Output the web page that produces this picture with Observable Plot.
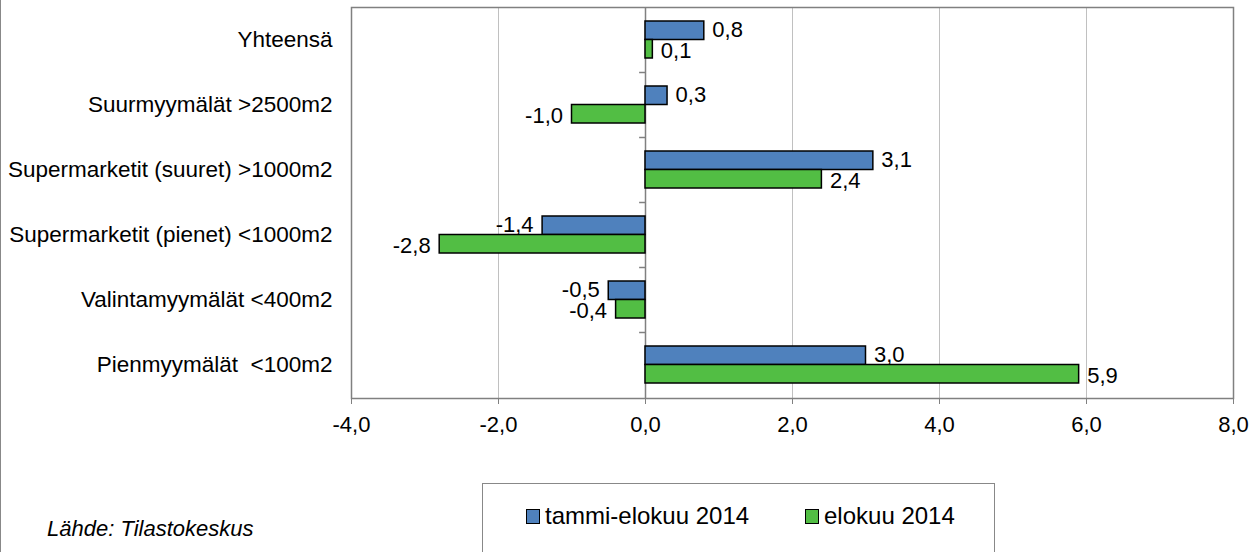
<!DOCTYPE html>
<html>
<head>
<meta charset="utf-8">
<script src="https://cdn.jsdelivr.net/npm/d3@7"></script>
<script src="https://cdn.jsdelivr.net/npm/@observablehq/plot@0.6"></script>
<style>
  html, body { margin: 0; padding: 0; background: #fff; }
  body { width: 1257px; height: 552px; position: relative; overflow: hidden; font-family: "Liberation Sans", Arial, sans-serif; }
  #outer { position: absolute; left: 0; top: 0; width: 1257px; height: 552px; border-left: 1px solid #888; box-sizing: border-box; }
  #chart { position: absolute; left: 0; top: 0; }
  #chart svg text { white-space: pre; }
  #legend { position: absolute; left: 482px; top: 483px; width: 513px; height: 80px; border: 1px solid #888; box-sizing: border-box; font-size: 24px; line-height: 24px; color: #000; }
  .item { position: absolute; top: 20px; display: flex; align-items: center; }
  .sw { width: 14px; height: 15px; border: 1.5px solid #000; box-sizing: border-box; margin-right: 5px; }
  #source { position: absolute; left: 47px; top: 518px; font-size: 22px; line-height: 22px; font-style: italic; white-space: nowrap; }
</style>
</head>
<body>
<div id="outer"></div>
<div id="chart"></div>
<div id="legend"></div>
<div id="source">Lähde: Tilastokeskus</div>
<script>
const categories = [
  "Yhteensä",
  "Suurmyymälät >2500m2",
  "Supermarketit (suuret) >1000m2",
  "Supermarketit (pienet) <1000m2",
  "Valintamyymälät <400m2",
  "Pienmyymälät  <100m2"
];
const seriesNames = ["tammi-elokuu 2014", "elokuu 2014"];
const tammiElokuu = [0.8, 0.3, 3.1, -1.4, -0.5, 3.0];
const elokuu = [0.1, -1.0, 2.4, -2.8, -0.4, 5.9];
const xTicks = [-4, -2, 0, 2, 4, 6, 8];
const colors = ["#4F81BD", "#52BE44"];

const fmt = v => v.toFixed(1).replace(".", ",");

const rowsA = categories.map((c, i) => ({cat: c, value: tammiElokuu[i]}));
const rowsB = categories.map((c, i) => ({cat: c, value: elokuu[i]}));

const half = 18.5;
const fs = 22;
const chart = Plot.plot({
  width: 1257,
  height: 445,
  marginLeft: 351,
  marginRight: 24,
  marginTop: 7,
  marginBottom: 47,
  style: {fontFamily: "'Liberation Sans', Arial, sans-serif", fontSize: fs + "px", color: "#000", background: "transparent"},
  x: {domain: [-4, 8], ticks: xTicks, tickFormat: fmt, label: null},
  y: {domain: categories, paddingInner: 0.43, paddingOuter: 0.22, label: null},
  marks: [
    Plot.ruleX(xTicks.filter(t => t !== 0), {stroke: "#c0c0c0", strokeWidth: 1}),
    Plot.ruleX([0], {stroke: "#808080", strokeWidth: 1.5}),
    Plot.ruleY(categories.slice(1), {y: d => d, x1: -0.08, x2: 0, dy: -32.5, stroke: "#808080", strokeWidth: 1.5}),
    Plot.barX(rowsA, {x: "value", y: "cat", fill: colors[0], stroke: "#000", strokeWidth: 1.5, insetBottom: half}),
    Plot.barX(rowsB, {x: "value", y: "cat", fill: colors[1], stroke: "#000", strokeWidth: 1.5, insetTop: half}),
    Plot.text(rowsA.filter(d => d.value >= 0), {x: "value", y: "cat", text: d => fmt(d.value), dy: -10, dx: 8, textAnchor: "start", fontSize: fs, fill: "#000"}),
    Plot.text(rowsA.filter(d => d.value < 0), {x: "value", y: "cat", text: d => fmt(d.value), dy: -10, dx: -9, textAnchor: "end", fontSize: fs, fill: "#000"}),
    Plot.text(rowsB.filter(d => d.value >= 0), {x: "value", y: "cat", text: d => fmt(d.value), dy: 11, dx: 8, textAnchor: "start", fontSize: fs, fill: "#000"}),
    Plot.text(rowsB.filter(d => d.value < 0), {x: "value", y: "cat", text: d => fmt(d.value), dy: 11, dx: -9, textAnchor: "end", fontSize: fs, fill: "#000"}),
    Plot.frame({stroke: "#808080", strokeWidth: 1.5}),
    Plot.axisX({ticks: xTicks, tickFormat: fmt, tickSize: 6, tickPadding: 12, stroke: "#808080", fontSize: fs, fill: "#000"}),
    Plot.axisY({tickSize: 0, tickPadding: 19, fontSize: 22.5, fill: "#000"})
  ]
});
document.getElementById("chart").appendChild(chart);

const legend = document.getElementById("legend");
const lefts = [43, 322];
seriesNames.forEach((name, i) => {
  const item = document.createElement("div");
  item.className = "item";
  item.style.left = lefts[i] + "px";
  const sw = document.createElement("div");
  sw.className = "sw";
  sw.style.background = colors[i];
  const t = document.createElement("span");
  t.textContent = name;
  item.appendChild(sw);
  item.appendChild(t);
  legend.appendChild(item);
});
</script>
</body>
</html>
